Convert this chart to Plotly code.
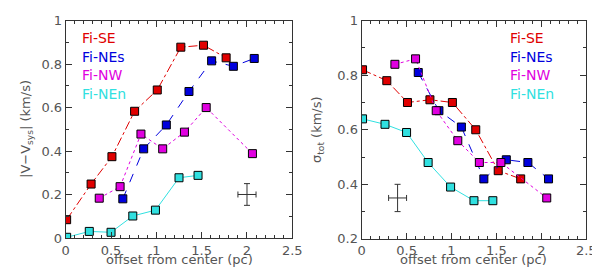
import plotly.graph_objects as go

# ---- data ----
series_names = ["Fi-SE", "Fi-NEs", "Fi-NW", "Fi-NEn"]
series_colors = ["#e00000", "#0000dd", "#e000e0", "#30e0e0"]
series_dash = ["dashdot", "dash", "dot", "solid"]

x_se = [0.01, 0.28, 0.51, 0.76, 1.01, 1.27, 1.52, 1.77]
x_nes = [0.63, 0.86, 1.11, 1.36, 1.61, 1.85, 2.08]
x_nw = [0.37, 0.60, 0.83, 1.07, 1.31, 1.55, 2.06]
x_nen = [0.01, 0.26, 0.50, 0.74, 0.99, 1.25, 1.46]

v_se = [0.084, 0.248, 0.374, 0.583, 0.681, 0.878, 0.887, 0.829]
v_nes = [0.18, 0.41, 0.52, 0.674, 0.815, 0.79, 0.826]
v_nw = [0.183, 0.236, 0.478, 0.41, 0.487, 0.60, 0.388]
v_nen = [0.003, 0.03, 0.026, 0.101, 0.128, 0.277, 0.288]

s_se = [0.82, 0.78, 0.70, 0.71, 0.70, 0.60, 0.45, 0.42]
s_nes = [0.81, 0.67, 0.61, 0.42, 0.49, 0.48, 0.42]
s_nw = [0.84, 0.86, 0.67, 0.56, 0.48, 0.48, 0.35]
s_nen = [0.64, 0.62, 0.59, 0.48, 0.39, 0.34, 0.34]

x_ticks = [0, 0.5, 1, 1.5, 2, 2.5]
x_ticktext = ["0", "0.5", "1", "1.5", "2", "2.5"]
y1_ticks = [0, 0.2, 0.4, 0.6, 0.8, 1.0]
y1_ticktext = ["0", "0.2", "0.4", "0.6", "0.8", "1"]
y2_ticks = [0.2, 0.4, 0.6, 0.8, 1.0]
y2_ticktext = ["0.2", "0.4", "0.6", "0.8", "1"]

# representative error crosses
err_left = dict(x=2.0, y=0.2, ex=0.1, ey=0.05)
err_right = dict(x=0.4, y=0.35, ex=0.1, ey=0.05)

xs = [x_se, x_nes, x_nw, x_nen]
vs = [v_se, v_nes, v_nw, v_nen]
ss = [s_se, s_nes, s_nw, s_nen]

fig = go.Figure()

for panel, ys, xa, ya in [(0, vs, "x", "y"), (1, ss, "x2", "y2")]:
    for name, col, dash, xv, yv in zip(series_names, series_colors, series_dash, xs, ys):
        fig.add_trace(go.Scatter(
            x=xv, y=yv, mode="lines+markers", name=name, showlegend=False,
            xaxis=xa, yaxis=ya,
            line=dict(color=col, width=1, dash=dash),
            marker=dict(symbol="square", size=8, color=col,
                        line=dict(color="black", width=1)),
        ))

for e, xa, ya in [(err_left, "x", "y"), (err_right, "x2", "y2")]:
    fig.add_trace(go.Scatter(
        x=[e["x"]], y=[e["y"]], mode="markers", showlegend=False,
        xaxis=xa, yaxis=ya,
        marker=dict(size=1, color="rgba(0,0,0,0)"),
        error_x=dict(type="constant", value=e["ex"], color="#333", thickness=1, width=3),
        error_y=dict(type="constant", value=e["ey"], color="#333", thickness=1, width=3),
    ))

font_main = "DejaVu Sans, sans-serif"
axis_common = dict(
    showline=True, linecolor="#333", linewidth=1, mirror="allticks",
    ticks="inside", ticklen=6, tickcolor="#333", tickwidth=1,
    showgrid=False, zeroline=False, tickmode="array",
    ticklabeloverflow="allow",
    tickfont=dict(family=font_main, size=13, color="#555"),
)
minor = dict(ticks="inside", tickmode="linear", dtick=0.1, ticklen=3, tickcolor="#333")

fig.update_layout(
    width=600, height=271,
    margin=dict(l=0, r=0, t=0, b=0),
    paper_bgcolor="white", plot_bgcolor="white",
    xaxis=dict(domain=[55/600, 287/600], range=[0, 2.5], tickvals=x_ticks, ticktext=x_ticktext,
               minor=dict(minor, tick0=0), anchor="y", **axis_common),
    yaxis=dict(domain=[35/271, 265/271], range=[0, 1], tickvals=y1_ticks, ticktext=y1_ticktext,
               minor=dict(minor, tick0=0), anchor="x", **axis_common),
    xaxis2=dict(domain=[358/600, 588/600], range=[0, 2.5], tickvals=x_ticks, ticktext=x_ticktext,
                minor=dict(minor, tick0=0), anchor="y2", **axis_common),
    yaxis2=dict(domain=[34/271, 265/271], range=[0.2, 1], tickvals=y2_ticks, ticktext=y2_ticktext,
                minor=dict(minor, tick0=0.2), anchor="x2", **axis_common),
)

annos = []
# axis titles
for xc in [(55 + 287) / 2 / 600, (358 + 588) / 2 / 600]:
    annos.append(dict(x=xc, y=(271 - 259) / 271, xref="paper", yref="paper",
                      xanchor="center", yanchor="middle",
                      text="offset from center (pc)", showarrow=False,
                      font=dict(family=font_main, size=13, color="#555")))
annos.append(dict(x=15 / 600, y=(271 - 121) / 271, xref="paper", yref="paper",
                  xanchor="center", yanchor="middle",
                  text="|V\u2212V<sub>sys</sub>| (km/s)", textangle=-90, showarrow=False,
                  font=dict(family=font_main, size=13, color="#555")))
annos.append(dict(x=313 / 600, y=(271 - 121) / 271, xref="paper", yref="paper",
                  xanchor="center", yanchor="middle",
                  text="\u03c3<sub>tot</sub> (km/s)", textangle=-90, showarrow=False,
                  font=dict(family=font_main, size=13, color="#555")))
# legends (text labels)
legend_y = [24, 44, 64, 84]
for xl in [70, 508]:
    for name, col, ly in zip(series_names, series_colors, legend_y):
        annos.append(dict(x=xl / 600, y=(271 - ly) / 271, xref="paper", yref="paper",
                          xanchor="left", yanchor="middle", text=name, showarrow=False,
                          font=dict(family=font_main, size=14, color=col)))
fig.update_layout(annotations=annos)

fig.write_html("out.html")
